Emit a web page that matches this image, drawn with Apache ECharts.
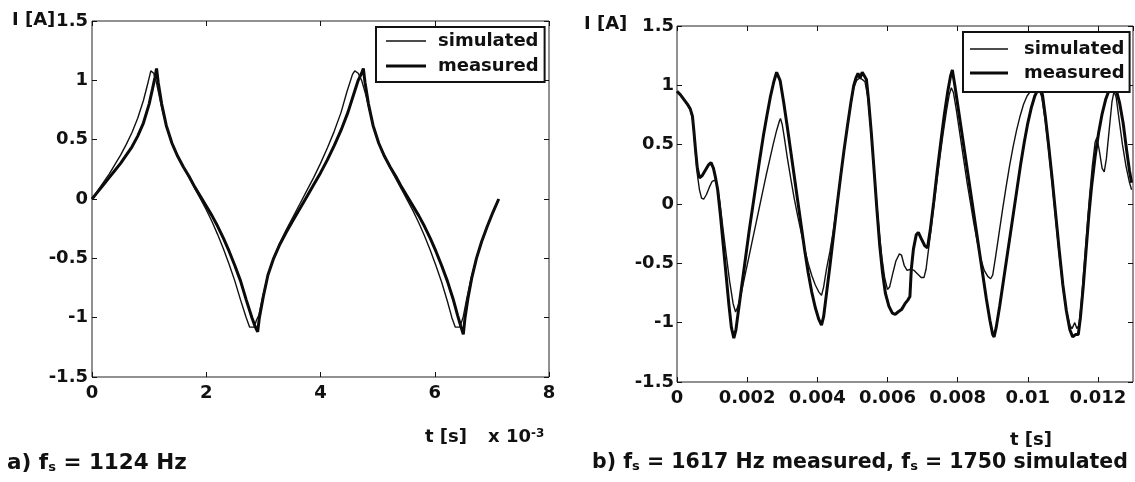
<!DOCTYPE html>
<html>
<head>
<meta charset="utf-8">
<script src="https://cdn.jsdelivr.net/npm/echarts@6/dist/echarts.min.js"></script>
<style>html,body{margin:0;padding:0;background:#fff;}#c{width:1135px;height:482px;}</style>
</head>
<body>
<div id="c"></div>
<script>
// ---------- data (time in ms, current in A) ----------
const leftMeasT = [0.00,0.10,0.20,0.30,0.40,0.50,0.60,0.70,0.80,0.90,1.00,1.06,1.10,1.13,
  1.16,1.22,1.30,1.40,1.50,1.60,1.70,1.80,1.90,2.00,2.10,2.20,2.30,2.40,2.50,2.60,2.70,2.80,2.86,2.90,
  2.93,3.00,3.08,3.18,3.28,3.40,3.52,3.64,3.76,3.88,4.00,4.12,4.24,4.36,4.48,4.58,4.66,4.72,4.75,
  4.78,4.84,4.92,5.02,5.12,5.22,5.32,5.42,5.52,5.62,5.72,5.82,5.92,6.02,6.12,6.22,6.32,6.40,6.46,6.50,
  6.53,6.58,6.65,6.73,6.82,6.92,7.02,7.12];
const leftMeasI = [0.00,0.06,0.12,0.18,0.24,0.30,0.37,0.44,0.53,0.64,0.80,0.93,1.02,1.10,
  0.98,0.80,0.62,0.47,0.36,0.27,0.19,0.10,0.02,-0.06,-0.14,-0.23,-0.33,-0.44,-0.56,-0.69,-0.85,-1.00,-1.08,-1.12,
  -1.00,-0.82,-0.64,-0.50,-0.39,-0.28,-0.18,-0.08,0.02,0.12,0.22,0.33,0.45,0.58,0.73,0.88,1.00,1.06,1.10,
  0.98,0.80,0.62,0.47,0.36,0.27,0.19,0.10,0.02,-0.06,-0.14,-0.23,-0.33,-0.44,-0.56,-0.69,-0.84,-0.98,-1.08,-1.14,
  -1.00,-0.84,-0.66,-0.50,-0.36,-0.23,-0.11,0.00];

const leftSimT = [0.00,0.10,0.20,0.30,0.40,0.50,0.60,0.70,0.80,0.90,0.98,1.03,1.08,1.12,
  1.18,1.24,1.30,1.40,1.50,1.60,1.70,1.80,1.90,2.00,2.10,2.20,2.30,2.40,2.50,2.60,2.70,2.76,2.84,2.88,
  2.92,2.99,3.08,3.18,3.28,3.40,3.52,3.64,3.76,3.88,4.00,4.12,4.24,4.36,4.46,4.56,4.60,4.66,4.72,
  4.78,4.84,4.92,5.02,5.12,5.22,5.32,5.42,5.52,5.62,5.72,5.82,5.92,6.02,6.12,6.22,6.30,6.36,6.44,
  6.50,6.56,6.64,6.73,6.82,6.92,7.02,7.12];
const leftSimI = [0.00,0.07,0.14,0.21,0.29,0.37,0.46,0.56,0.68,0.83,0.98,1.08,1.06,1.00,
  0.86,0.73,0.62,0.47,0.36,0.27,0.18,0.09,0.00,-0.09,-0.19,-0.30,-0.42,-0.55,-0.69,-0.85,-1.00,-1.08,-1.08,-1.02,
  -0.98,-0.82,-0.64,-0.50,-0.38,-0.26,-0.15,-0.04,0.07,0.18,0.30,0.43,0.57,0.73,0.90,1.05,1.08,1.06,1.00,
  0.90,0.78,0.62,0.47,0.36,0.26,0.17,0.08,-0.01,-0.10,-0.20,-0.31,-0.43,-0.56,-0.70,-0.86,-1.00,-1.08,-1.08,
  -0.99,-0.84,-0.66,-0.50,-0.36,-0.23,-0.11,0.00];

const rightMeasT = [0.00,0.10,0.20,0.30,0.38,0.44,0.48,0.53,0.58,0.64,0.72,0.80,0.90,0.97,1.04,1.10,1.16,1.24,1.32,1.40,1.48,1.55,1.62,
  1.68,1.76,1.86,1.96,2.06,2.16,2.26,2.36,2.46,2.56,2.66,2.76,2.84,2.88,
  2.94,3.04,3.14,3.24,3.34,3.44,3.54,3.64,3.74,3.84,3.94,4.04,4.12,
  4.18,4.26,4.36,4.46,4.56,4.66,4.76,4.86,4.96,5.04,5.10,5.16,5.22,5.28,5.34,5.40,
  5.46,5.54,5.62,5.70,5.78,5.86,5.94,6.04,6.14,6.22,6.30,6.40,6.50,6.58,6.64,6.68,6.74,6.82,6.88,6.96,7.06,7.14,
  7.22,7.32,7.42,7.52,7.62,7.72,7.80,7.85,
  7.92,8.02,8.12,8.22,8.32,8.42,8.52,8.62,8.72,8.82,8.92,9.00,9.04,
  9.10,9.20,9.30,9.40,9.50,9.60,9.70,9.80,9.90,10.00,10.10,10.20,10.30,10.36,
  10.42,10.50,10.60,10.70,10.80,10.90,11.00,11.10,11.20,11.28,11.36,11.44,
  11.50,11.58,11.66,11.74,11.82,11.92,12.02,12.12,12.22,12.32,12.40,12.46,
  12.54,12.62,12.72,12.82,12.90,12.96];
const rightMeasI = [0.95,0.92,0.88,0.84,0.80,0.74,0.62,0.45,0.30,0.22,0.24,0.28,0.33,0.35,0.30,0.22,0.12,-0.10,-0.35,-0.60,-0.85,-1.04,-1.13,
  -1.06,-0.88,-0.66,-0.44,-0.22,-0.02,0.18,0.38,0.57,0.74,0.90,1.03,1.11,1.12,
  1.04,0.86,0.66,0.45,0.24,0.03,-0.18,-0.39,-0.58,-0.74,-0.87,-0.97,-1.02,
  -0.95,-0.76,-0.52,-0.27,-0.02,0.22,0.45,0.66,0.86,1.00,1.06,1.10,1.06,1.11,1.08,1.05,
  0.88,0.60,0.28,-0.05,-0.35,-0.58,-0.75,-0.86,-0.92,-0.93,-0.91,-0.89,-0.84,-0.81,-0.78,-0.55,-0.38,-0.26,-0.24,-0.29,-0.35,-0.37,
  -0.22,0.02,0.28,0.52,0.75,0.95,1.08,1.13,
  1.00,0.80,0.60,0.40,0.20,0.00,-0.20,-0.40,-0.60,-0.80,-0.98,-1.10,-1.12,
  -1.04,-0.86,-0.66,-0.46,-0.26,-0.06,0.14,0.34,0.52,0.68,0.81,0.91,0.97,0.98,
  0.92,0.74,0.48,0.20,-0.10,-0.40,-0.68,-0.90,-1.06,-1.12,-1.10,-1.10,
  -0.96,-0.70,-0.40,-0.10,0.15,0.40,0.60,0.76,0.88,0.96,0.99,1.00,
  0.94,0.85,0.68,0.45,0.28,0.18];

const rightSimT = [0.00,0.10,0.20,0.30,0.38,0.44,0.48,0.53,0.58,0.64,0.70,0.76,0.84,0.92,1.00,1.08,1.14,1.22,1.30,1.40,1.50,1.60,1.67,
  1.74,1.84,1.94,2.04,2.14,2.24,2.34,2.44,2.54,2.64,2.74,2.84,2.92,2.95,
  3.00,3.06,3.14,3.24,3.34,3.44,3.54,3.64,3.74,3.84,3.94,4.04,4.12,
  4.18,4.26,4.36,4.46,4.56,4.66,4.76,4.86,4.96,5.04,5.12,5.20,5.28,5.36,
  5.44,5.52,5.60,5.68,5.76,5.84,5.92,6.00,6.06,6.14,6.24,6.34,6.40,6.48,6.56,6.66,6.76,6.86,6.96,7.04,
  7.10,7.18,7.28,7.38,7.48,7.58,7.68,7.76,7.82,
  7.88,7.96,8.06,8.16,8.26,8.36,8.46,8.56,8.66,8.76,8.86,8.94,
  9.00,9.08,9.18,9.28,9.38,9.48,9.58,9.68,9.78,9.88,9.98,10.10,10.22,10.32,
  10.40,10.50,10.60,10.70,10.80,10.90,11.00,11.10,11.20,11.26,11.34,11.40,11.46,
  11.52,11.60,11.68,11.76,11.84,11.92,11.97,12.04,12.12,12.18,12.24,12.32,12.40,12.46,
  12.52,12.60,12.70,12.80,12.90,12.96];
const rightSimI = [0.95,0.92,0.88,0.83,0.79,0.72,0.60,0.42,0.25,0.12,0.05,0.04,0.08,0.14,0.19,0.20,0.17,0.02,-0.18,-0.42,-0.65,-0.84,-0.91,
  -0.86,-0.74,-0.60,-0.46,-0.32,-0.18,-0.04,0.10,0.24,0.37,0.50,0.62,0.70,0.72,
  0.67,0.56,0.40,0.22,0.05,-0.10,-0.24,-0.38,-0.50,-0.60,-0.68,-0.74,-0.77,
  -0.70,-0.55,-0.40,-0.22,0.00,0.22,0.45,0.66,0.85,0.98,1.04,1.06,1.05,1.03,
  0.90,0.65,0.36,0.06,-0.22,-0.45,-0.62,-0.72,-0.70,-0.60,-0.48,-0.42,-0.43,-0.52,-0.56,-0.55,-0.56,-0.59,-0.62,-0.62,
  -0.55,-0.36,-0.12,0.12,0.36,0.58,0.78,0.92,0.98,
  0.94,0.80,0.60,0.40,0.20,0.02,-0.16,-0.32,-0.46,-0.56,-0.61,-0.63,
  -0.60,-0.45,-0.25,-0.05,0.14,0.32,0.48,0.62,0.74,0.84,0.91,0.96,0.98,0.97,
  0.90,0.70,0.44,0.16,-0.14,-0.44,-0.70,-0.90,-1.02,-1.05,-1.00,-1.05,-1.02,
  -0.85,-0.55,-0.24,0.06,0.32,0.52,0.56,0.45,0.30,0.27,0.38,0.62,0.86,0.95,
  0.90,0.72,0.50,0.32,0.18,0.12];

const seriesNames = ['simulated', 'measured'];
const yTicks = { min: -1.5, max: 1.5, interval: 0.5 };
const leftXTicks = { min: 0, max: 8, interval: 2 };
const rightXTicks = { min: 0, max: 13, interval: 2 };

function pairs(ts, is) { return ts.map((t, k) => [t, is[k]]); }

// ---------- chart ----------
const FONT = '"DejaVu Sans", sans-serif';
const lab = { fontFamily: FONT, fontSize: 18, fontWeight: 'bold', color: '#111' };
const tick = { show: true, inside: true, length: 5, lineStyle: { color: '#111', width: 1 } };

function xAx(grid, ticks, pos, showLabel, fmt) {
  return { type: 'value', gridIndex: grid, position: pos, min: ticks.min, max: ticks.max, interval: ticks.interval,
    axisLine: { show: false, onZero: false }, splitLine: { show: false }, axisTick: tick,
    axisLabel: Object.assign({ show: showLabel, margin: 7, showMaxLabel: fmt ? false : true,
      formatter: fmt || undefined }, lab) };
}
function yAx(grid, pos, showLabel, margin) {
  return { type: 'value', gridIndex: grid, position: pos, min: yTicks.min, max: yTicks.max, interval: yTicks.interval,
    axisLine: { show: false, onZero: false }, splitLine: { show: false }, axisTick: tick,
    axisLabel: Object.assign({ show: showLabel, margin: margin }, lab) };
}
const msToS = v => String(+(v / 1000).toFixed(3));

const measStyle = { color: '#0a0a0a', width: 3 };
const simStyle = { color: '#111', width: 1.4 };

function legendCfg(left, top, padding, gap, itemWidth, textPad) {
  return {
    data: [
      { name: seriesNames[0], icon: 'path://M0,0H40V1.4H0Z' },
      { name: seriesNames[1], icon: 'path://M0,0H40V3H0Z' }
    ],
    orient: 'vertical', left: left, top: top, padding: padding, itemGap: gap,
    itemWidth: itemWidth, itemHeight: 20, symbolKeepAspect: true,
    borderColor: '#111', borderWidth: 2, backgroundColor: '#fff',
    selectedMode: false,
    textStyle: Object.assign({ padding: [0, 0, 0, textPad] }, lab) };
}

const sub = { fontFamily: FONT, fontSize: 12, fontWeight: 'bold', fill: '#111', verticalAlign: 'bottom' };
const main = { fontFamily: FONT, fontSize: 18, fontWeight: 'bold', fill: '#111' };
const capMain = { fontFamily: FONT, fontSize: 20.5, fontWeight: 'bold', fill: '#111' };
const capMainA = { fontFamily: FONT, fontSize: 21.5, fontWeight: 'bold', fill: '#111' };
const capSub = { fontFamily: FONT, fontSize: 13, fontWeight: 'bold', fill: '#111', verticalAlign: 'bottom' };

function txt(x, y, text, rich) {
  return { type: 'text', x: x, y: y, style: { text: text, font: 'bold 18px ' + FONT, fill: '#111',
    verticalAlign: 'middle', rich: rich || undefined } };
}

const option = {
  animation: false,
  backgroundColor: '#fff',
  grid: [
    { left: 92, top: 21, width: 457, height: 356, show: true, borderColor: '#222', borderWidth: 1, backgroundColor: 'transparent' },
    { left: 677, top: 26, width: 456, height: 356, show: true, borderColor: '#222', borderWidth: 1, backgroundColor: 'transparent' }
  ],
  xAxis: [
    xAx(0, leftXTicks, 'bottom', true),
    xAx(0, leftXTicks, 'top', false),
    xAx(1, rightXTicks, 'bottom', true, msToS),
    xAx(1, rightXTicks, 'top', false, msToS)
  ],
  yAxis: [
    yAx(0, 'left', true, 4),
    yAx(0, 'right', false, 4),
    yAx(1, 'left', true, 3),
    yAx(1, 'right', false, 3)
  ],
  legend: [
    legendCfg(376, 27, [5, 6, 7, 10], 7, 40, 7),
    legendCfg(963, 32, [8, 5, 10, 7], 6, 38, 11)
  ],
  series: [
    { name: 'measured', type: 'line', xAxisIndex: 0, yAxisIndex: 0, showSymbol: false, symbol: 'none', lineStyle: measStyle, itemStyle: { color: measStyle.color }, data: pairs(leftMeasT, leftMeasI) },
    { name: 'simulated', type: 'line', xAxisIndex: 0, yAxisIndex: 0, showSymbol: false, symbol: 'none', lineStyle: simStyle, itemStyle: { color: simStyle.color }, data: pairs(leftSimT, leftSimI) },
    { name: 'measured', type: 'line', xAxisIndex: 2, yAxisIndex: 2, showSymbol: false, symbol: 'none', lineStyle: measStyle, itemStyle: { color: measStyle.color }, data: pairs(rightMeasT, rightMeasI) },
    { name: 'simulated', type: 'line', xAxisIndex: 2, yAxisIndex: 2, showSymbol: false, symbol: 'none', lineStyle: simStyle, itemStyle: { color: simStyle.color }, data: pairs(rightSimT, rightSimI) }
  ],
  graphic: [
    txt(12, 20, 'I [A]'),
    txt(584, 24, 'I [A]'),
    txt(425, 437, 't [s]'),
    txt(1010, 440, 't [s]'),
    txt(488, 437, '{m|x 10}{p|-3}', { m: main, p: Object.assign({}, sub, { verticalAlign: 'top' }) }),
    txt(7, 463, '{m|a) f}{s|s}{m| = 1124 Hz}', { m: capMainA, s: capSub }),
    txt(592, 463, '{m|b) f}{s|s}{m| = 1617 Hz measured, f}{s|s}{m| = 1750 simulated}', { m: capMain, s: capSub })
  ]
};

const chart = echarts.init(document.getElementById('c'), null, { renderer: 'canvas' });
chart.setOption(option);
</script>
</body>
</html>
